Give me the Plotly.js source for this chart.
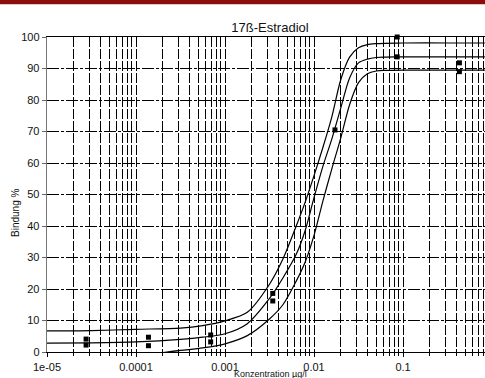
<!DOCTYPE html>
<html>
<head>
<meta charset="utf-8">
<script src="https://cdn.plot.ly/plotly-3.0.1.min.js"></script>
<style>
html,body{margin:0;padding:0;background:#fff;}
#band{position:absolute;left:0;top:0;width:485px;height:4px;background:#8a0c0c;border-bottom:1px solid #e7c3c3;z-index:5;}
#chart{position:absolute;left:0;top:0;width:485px;height:378px;}
</style>
</head>
<body>
<div id="chart"></div>
<div id="band"></div>
<script>
// Curve sample concentrations (µg/l)
const curveX = [1e-5, 3.16e-5, 1e-4, 3.16e-4, 5.62e-4, 1e-3, 1.78e-3, 3.16e-3, 4.47e-3, 6.31e-3, 7.94e-3, 0.01, 0.0126, 0.0158, 0.02, 0.0251, 0.0316, 0.0398, 0.0501, 0.0631, 0.1, 0.316, 0.83];
const upperY = [6.7, 6.8, 7.2, 7.6, 8.4, 9.9, 12.6, 21.5, 29.5, 40.0, 47.5, 56.0, 65.0, 74.5, 86.5, 93.6, 96.6, 97.6, 97.9, 98.0, 98.1, 98.1, 98.1];
const middleY = [2.8, 2.9, 3.2, 4.0, 4.7, 5.8, 9.0, 17.0, 23.5, 31.0, 38.5, 49.0, 59.0, 67.5, 77.5, 87.0, 91.8, 93.0, 93.5, 93.6, 93.7, 93.7, 93.7];
const lowerY = [-2.5, -2.3, -1.2, 0.5, 1.3, 2.6, 5.2, 10.5, 15.0, 22.5, 28.5, 37.0, 48.0, 58.0, 68.0, 78.5, 85.5, 88.3, 89.2, 89.4, 89.5, 89.5, 89.5];

// Measured points
const pointX = [2.75e-5, 2.75e-5, 1.38e-4, 1.38e-4, 6.9e-4, 6.9e-4, 3.44e-3, 3.44e-3, 0.0172, 0.086, 0.086, 0.43, 0.43];
const pointY = [4.1, 2.2, 4.7, 2.0, 5.4, 3.2, 18.6, 16.2, 70.5, 100.0, 93.7, 91.8, 89.0];

const xTickVals = [1e-5, 1e-4, 1e-3, 1e-2, 1e-1];
const xTickText = ["1e-05", "0.0001", "0.001", "0.01", "0.1"];
const yTickVals = [0, 10, 20, 30, 40, 50, 60, 70, 80, 90, 100];

const titleText = "17ß-Estradiol";
const xTitle = "Konzentration µg/l";
const yTitle = "Bindung %";

const minorVals = [];
for (let e = -5; e <= -1; e++) {
  for (let d = 2; d <= 9; d++) minorVals.push(d * Math.pow(10, e));
}

const lineStyle = {color: "#000", width: 1.2, shape: "spline", smoothing: 0.8};
const traces = [
  {x: curveX, y: upperY, mode: "lines", line: lineStyle, hoverinfo: "skip"},
  {x: curveX, y: middleY, mode: "lines", line: lineStyle, hoverinfo: "skip"},
  {x: curveX, y: lowerY, mode: "lines", line: lineStyle, hoverinfo: "skip"},
  {x: pointX, y: pointY, mode: "markers", marker: {symbol: "square", size: 5, color: "#000"}, cliponaxis: false}
];

const font = {family: "Liberation Sans, Arial, sans-serif", color: "#111", size: 11};
const layout = {
  width: 485, height: 378,
  margin: {l: 47, r: 0, t: 37, b: 26, pad: 0},
  paper_bgcolor: "#fff", plot_bgcolor: "#fff",
  showlegend: false,
  font: font,
  title: {text: titleText, font: {family: font.family, size: 13, color: "#111"}, xref: "container", x: 270/485, xanchor: "center", y: 1 - 27/378, yanchor: "middle"},
  xaxis: {
    type: "log", range: [-5, -0.079],
    tickmode: "array", tickvals: xTickVals, ticktext: xTickText,
    ticks: "outside", ticklen: 4, tickcolor: "#000", tickfont: {size: 11, color: "#111"},
    showgrid: true, gridcolor: "#000", gridwidth: 1, griddash: "10px,2px",
    minor: {tickmode: "array", tickvals: minorVals, showgrid: true, gridcolor: "#000", gridwidth: 1, griddash: "10px,2px", ticks: "outside", ticklen: 3, tickcolor: "#000"},
    showline: true, linecolor: "#000", linewidth: 1.3, mirror: true,
    zeroline: false
  },
  yaxis: {
    range: [0, 100], tickmode: "array", tickvals: yTickVals,
    ticks: "outside", ticklen: 4, tickcolor: "#666", tickfont: {size: 11, color: "#111"},
    showgrid: true, gridcolor: "#000", gridwidth: 1, griddash: "12px,2px,3px,2px",
    showline: true, linecolor: "#777", linewidth: 1.3,
    zeroline: false
  },
  annotations: [
    {text: xTitle, xref: "paper", yref: "paper", x: (270-47)/438, y: -(373.5-352)/315, xanchor: "center", yanchor: "middle", showarrow: false, font: {size: 9, color: "#111"}},
    {text: yTitle, xref: "paper", yref: "paper", x: -(47-15)/438, y: (352-213)/315, xanchor: "center", yanchor: "middle", textangle: -90, showarrow: false, font: {size: 10, color: "#111"}}
  ]
};

Plotly.newPlot("chart", traces, layout, {staticPlot: true, displayModeBar: false});
</script>
</body>
</html>
